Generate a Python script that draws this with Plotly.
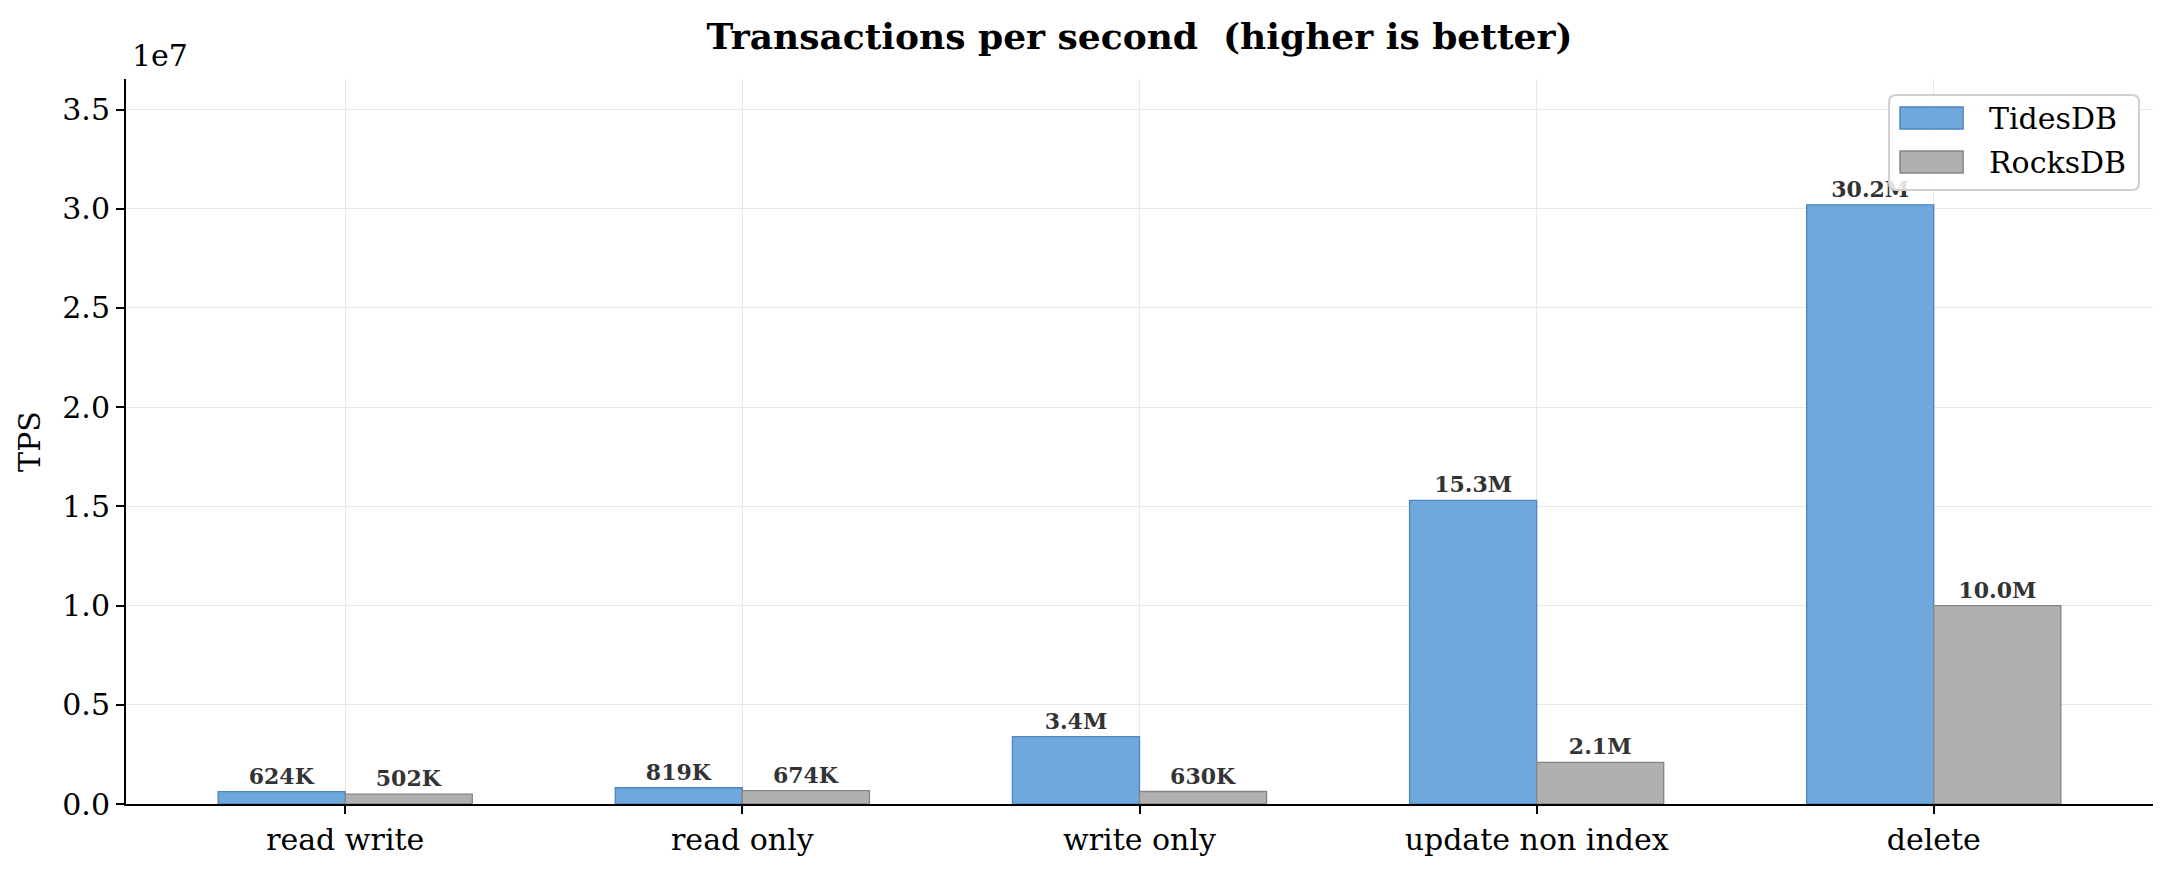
import plotly.graph_objects as go

categories = ["read write", "read only", "write only", "update non index", "delete"]
tidesdb_tps = [624000, 819000, 3400000, 15300000, 30200000]
rocksdb_tps = [502000, 674000, 630000, 2100000, 10000000]
ytick_vals = [0, 5e6, 1e7, 1.5e7, 2e7, 2.5e7, 3e7, 3.5e7]
ytick_text = ["0.0", "0.5", "1.0", "1.5", "2.0", "2.5", "3.0", "3.5"]
series_names = ["TidesDB", "RocksDB"]
fill_colors = ["#6fa8dc", "#b0b0b0"]
edge_colors = ["#4f84bd", "#858585"]


def fmt(v):
    if v >= 1e6:
        return f"{v/1e6:.1f}M"
    return f"{v/1e3:.0f}K"


FONT = "DejaVu Serif"
FS = 30
W, H = 2166, 864  # page body has an 8px margin

fig = go.Figure()
for name, vals, fc, ec in zip(series_names, [tidesdb_tps, rocksdb_tps], fill_colors, edge_colors):
    fig.add_trace(go.Bar(
        name=name, x=categories, y=vals, showlegend=False,
        marker=dict(color=fc, line=dict(color=ec, width=1.3)),
        text=[fmt(v) for v in vals], textposition="outside",
        textfont=dict(family=FONT, size=22, color="#333333", weight="bold"),
        cliponaxis=False,
    ))

fig.update_layout(
    width=W, height=H,
    margin=dict(l=118, r=21, t=71, b=68, autoexpand=False),
    paper_bgcolor="white", plot_bgcolor="white",
    font=dict(family=FONT, size=FS, color="black"),
    barmode="group", bargap=0.36, bargroupgap=0,
    title=dict(text="<b>Transactions per second  (higher is better)</b>",
               xref="paper", x=0.5, xanchor="center", y=1 - 28 / H, yanchor="middle",
               font=dict(family=FONT, size=36, color="black")),
)
fig.update_xaxes(
    range=[-0.552, 4.552], showline=True, linecolor="black", linewidth=2,
    ticks="outside", ticklen=8, tickwidth=2, tickcolor="black",
    showgrid=True, gridcolor="#e8e8e8", gridwidth=1, automargin=False,
    tickfont=dict(family=FONT, size=FS),
)
fig.update_yaxes(
    range=[0, 36.54e6], showline=True, linecolor="black", linewidth=2,
    ticks="outside", ticklen=8, tickwidth=2, tickcolor="black",
    tickvals=ytick_vals, ticktext=ytick_text, automargin=False,
    showgrid=True, gridcolor="#e8e8e8", gridwidth=1, zeroline=False,
    tickfont=dict(family=FONT, size=FS),
    title=dict(text="TPS", font=dict(family=FONT, size=FS), standoff=13),
)
fig.add_annotation(text="1e7", xref="paper", yref="paper", x=0, y=1.005,
                   xanchor="left", yanchor="bottom", showarrow=False, xshift=4,
                   font=dict(family=FONT, size=FS, color="black"))

# legend (matplotlib style, wide swatches) in paper coordinates
x0, x1, y0, y1 = 0.8698, 0.9931, 0.8469, 0.9779
rx, ry = 7 / 2027, 7 / 725
path = (f"M {x0+rx},{y0} L {x1-rx},{y0} Q {x1},{y0} {x1},{y0+ry} "
        f"L {x1},{y1-ry} Q {x1},{y1} {x1-rx},{y1} L {x0+rx},{y1} "
        f"Q {x0},{y1} {x0},{y1-ry} L {x0},{y0+ry} Q {x0},{y0} {x0+rx},{y0} Z")
fig.add_shape(type="path", path=path, xref="paper", yref="paper", layer="above",
              fillcolor="rgba(255,255,255,0.85)", line=dict(color="#d0d0d0", width=2))
sw_y = [(0.931, 0.9614), (0.8703, 0.9007)]
txt_y = [0.9462, 0.8855]
for name, fc, ec, (sy0, sy1), ty in zip(series_names, fill_colors, edge_colors, sw_y, txt_y):
    fig.add_shape(type="rect", xref="paper", yref="paper", layer="above",
                  x0=0.8752, x1=0.9063, y0=sy0, y1=sy1,
                  fillcolor=fc, line=dict(color=ec, width=1.5))
    fig.add_annotation(text=name, xref="paper", yref="paper", x=0.9181, y=ty,
                       xanchor="left", yanchor="middle", showarrow=False,
                       font=dict(family=FONT, size=FS, color="black"))

fig.write_html("out.html")
